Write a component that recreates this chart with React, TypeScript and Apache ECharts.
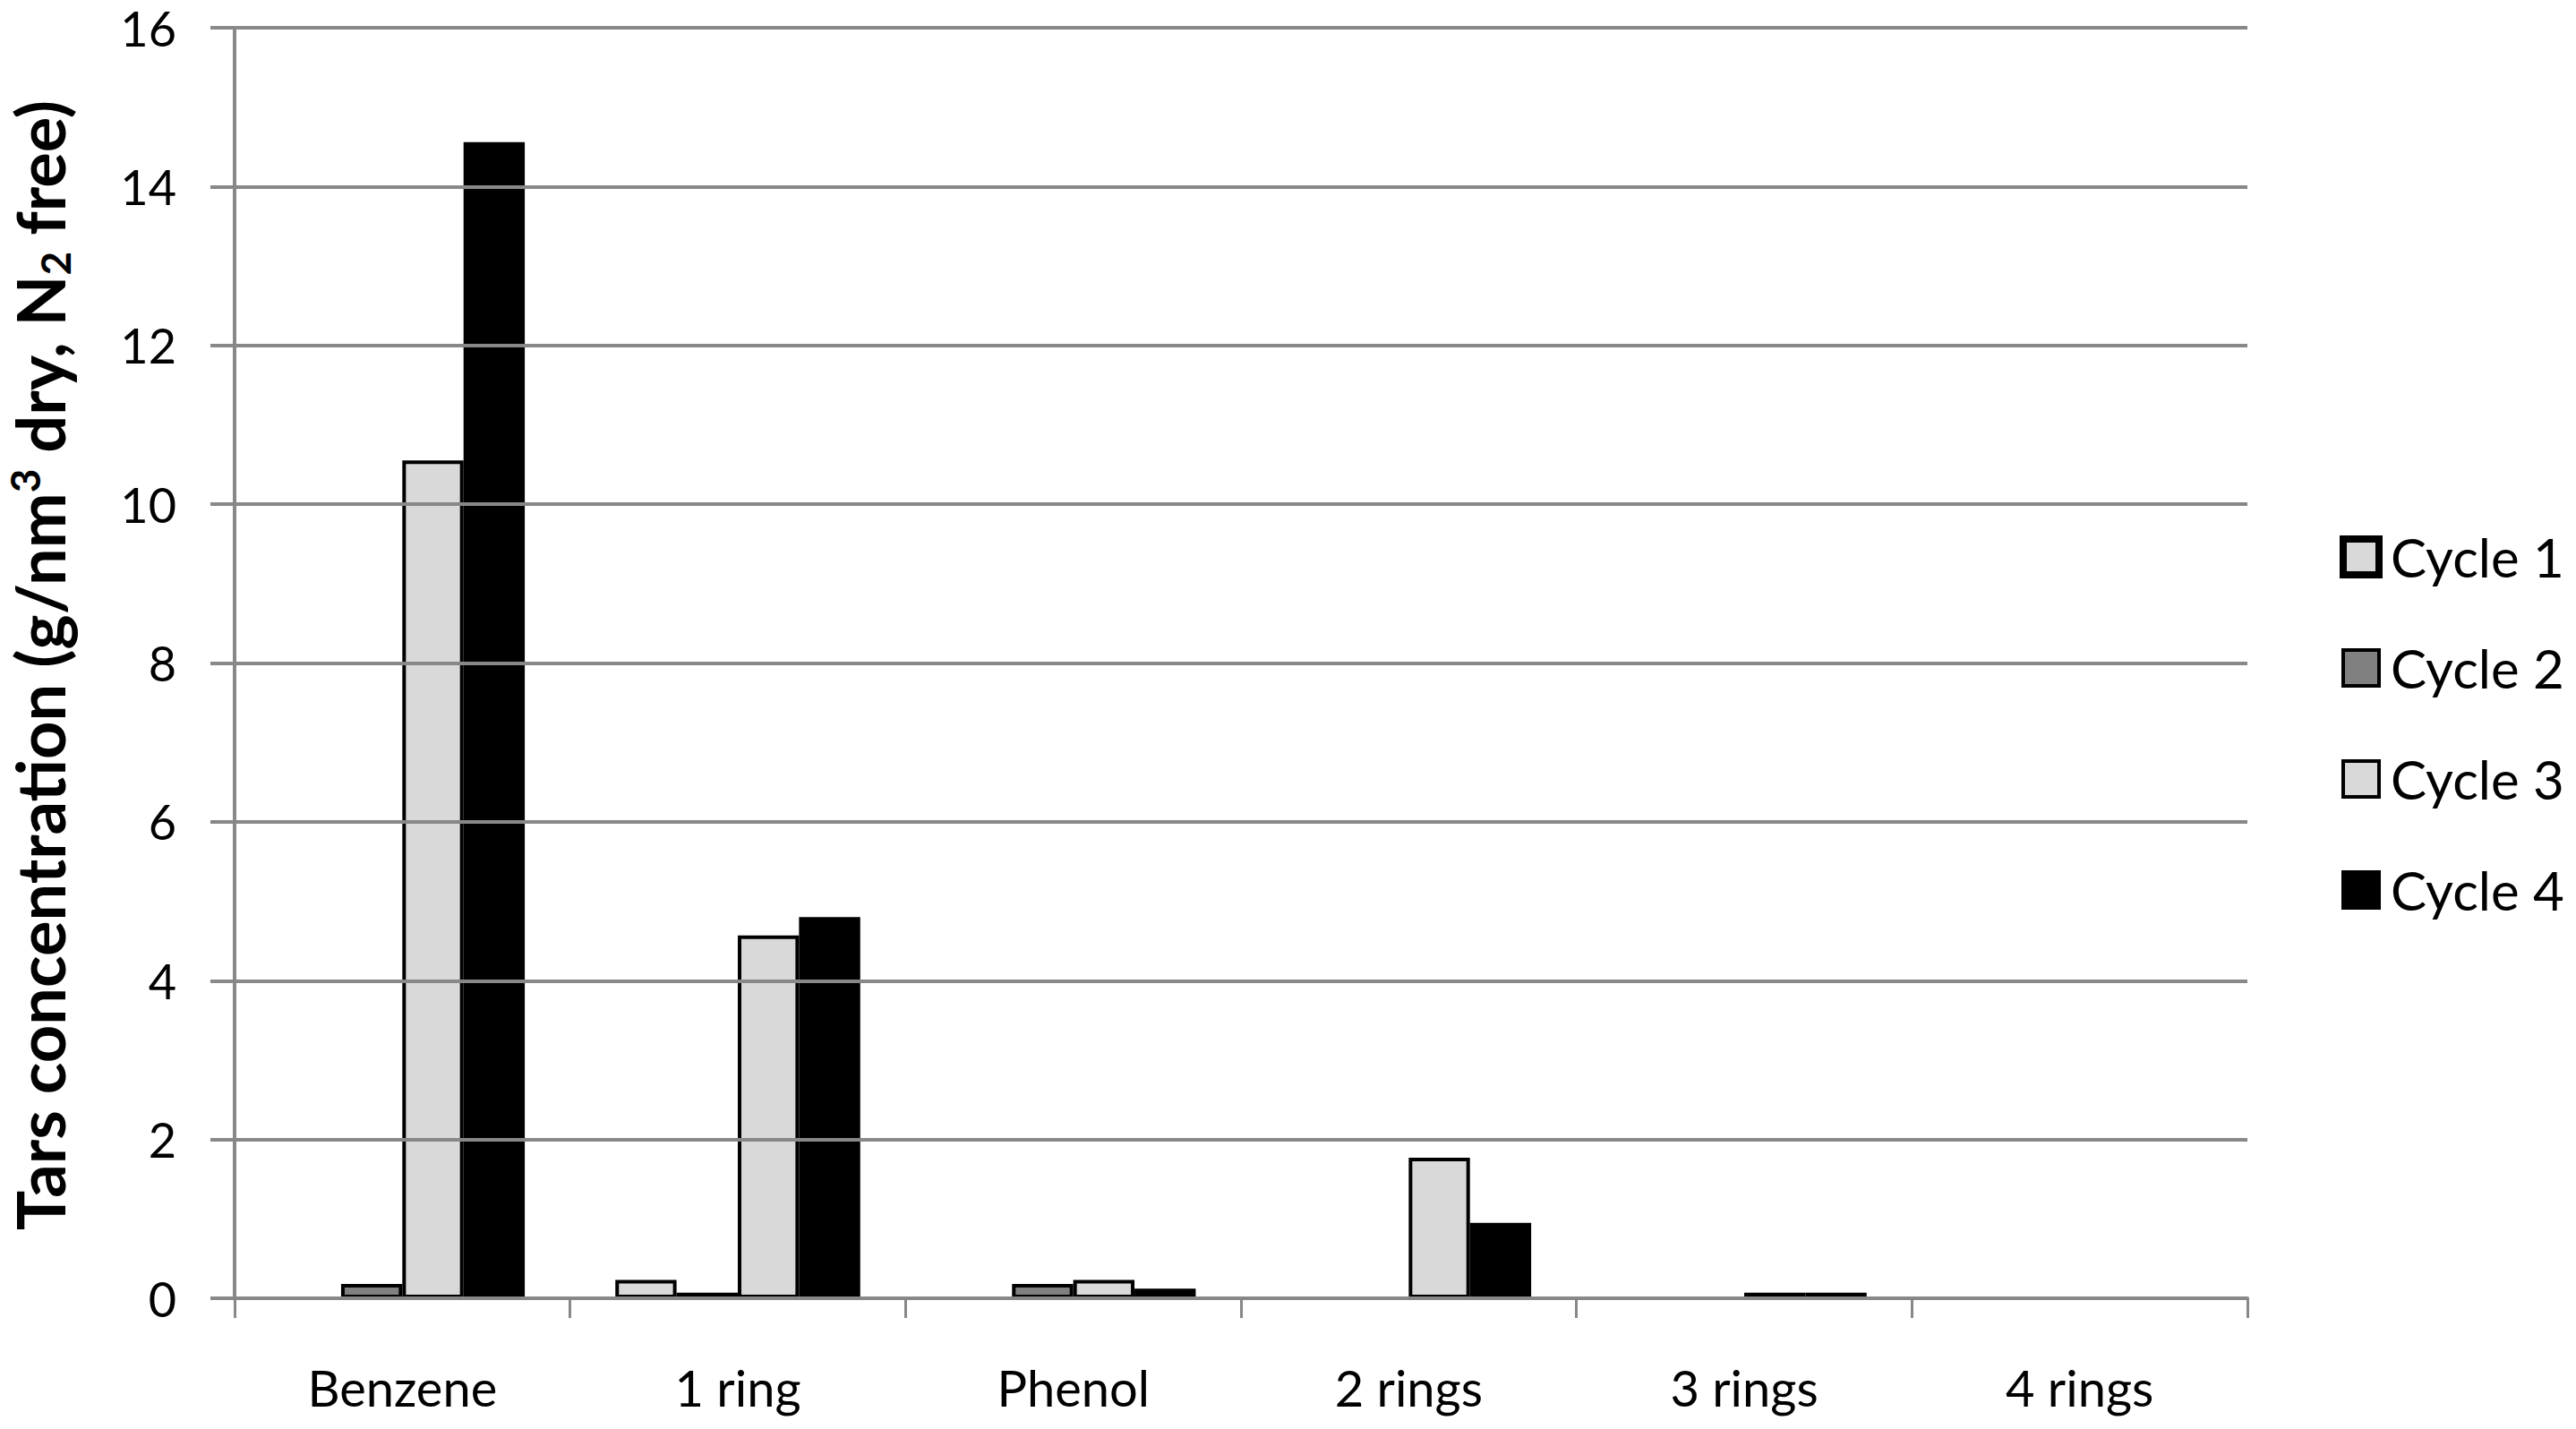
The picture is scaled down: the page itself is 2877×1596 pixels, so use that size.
import React, { useEffect, useRef } from "react";
import * as echarts from "echarts";

const categories = ["Benzene", "1 ring", "Phenol", "2 rings", "3 rings", "4 rings"];
const seriesNames = ["Cycle 1", "Cycle 2", "Cycle 3", "Cycle 4"];
const cycle1 = [0, 0.23, 0, 0, 0, 0];
const cycle2 = [0.18, 0.07, 0.18, 0, 0, 0];
const cycle3 = [10.55, 4.57, 0.23, 1.77, 0.07, 0];
const cycle4 = [14.56, 4.8, 0.12, 0.95, 0.07, 0];
const yTicks = [0, 2, 4, 6, 8, 10, 12, 14, 16];

const fills = ["#d9d9d9", "#808080", "#d9d9d9", "#000000"];
const FONT = "Lato, 'Open Sans', sans-serif";
const AXIS_GREY = "#888888";

export default function App() {
  const ref = useRef<HTMLDivElement>(null);
  useEffect(() => {
    if (!ref.current) return;
    const chart = echarts.init(ref.current, undefined, { renderer: "svg" });
    const values = [cycle1, cycle2, cycle3, cycle4];
    chart.setOption({
      animation: false,
      backgroundColor: "#ffffff",
      textStyle: { fontFamily: FONT },
      grid: { left: 262, right: 367, top: 31, bottom: 146, containLabel: false },
      legend: {
        orient: "vertical",
        left: 2608,
        top: 587,
        itemWidth: 40,
        itemHeight: 40,
        itemGap: 64,
        icon: "rect",
        textStyle: { fontSize: 60, color: "#000", fontFamily: FONT, lineHeight: 40, padding: [0, 0, 0, 8] },
        data: seriesNames.map((n, i) => ({
          name: n,
          itemStyle: { color: fills[i], borderColor: "#000", borderWidth: i === 0 ? 8 : 4 },
        })),
      },
      xAxis: {
        type: "category",
        data: categories,
        z: 5,
        axisLine: { lineStyle: { color: AXIS_GREY, width: 4 } },
        axisTick: { show: true, length: 22, lineStyle: { color: AXIS_GREY, width: 3 } },
        axisLabel: { fontSize: 56, color: "#000", margin: 71, fontFamily: FONT },
        splitLine: { show: false },
      },
      yAxis: {
        type: "value",
        min: yTicks[0],
        max: yTicks[yTicks.length - 1],
        interval: 2,
        z: 5,
        axisLine: { show: true, lineStyle: { color: AXIS_GREY, width: 4 } },
        axisTick: { show: true, length: 27, lineStyle: { color: AXIS_GREY, width: 4 } },
        axisLabel: { fontSize: 54, color: "#000", margin: 65, fontFamily: FONT },
        splitLine: { show: true, lineStyle: { color: AXIS_GREY, width: 4 } },
      },
      series: seriesNames.map((n, i) => ({
        name: n,
        type: "bar",
        data: values[i],
        barGap: "0%",
        barCategoryGap: "27%",
        itemStyle: { color: fills[i], borderColor: "#000", borderWidth: 4 },
      })),
      graphic: [
        {
          type: "text",
          x: 44,
          y: 743,
          rotation: Math.PI / 2,
          style: {
            text: "{b|Tars concentration (g/nm}{sup|3}{b| dry, N}{sub|2}{b| free)}",
            align: "center",
            verticalAlign: "middle",
            fill: "#000",
            rich: {
              b: { fontSize: 74, fontWeight: "bold", fontFamily: FONT, lineHeight: 80, verticalAlign: "middle", fill: "#000" },
              sup: { fontSize: 46, fontWeight: "bold", fontFamily: FONT, lineHeight: 46, verticalAlign: "top", fill: "#000" },
              sub: { fontSize: 46, fontWeight: "bold", fontFamily: FONT, lineHeight: 46, verticalAlign: "bottom", fill: "#000" },
            },
          },
        },
      ],
    });
    return () => chart.dispose();
  }, []);
  return (
    <div
      ref={ref}
      style={{ position: "absolute", left: 0, top: 0, width: 2877, height: 1596, background: "#fff" }}
    />
  );
}
